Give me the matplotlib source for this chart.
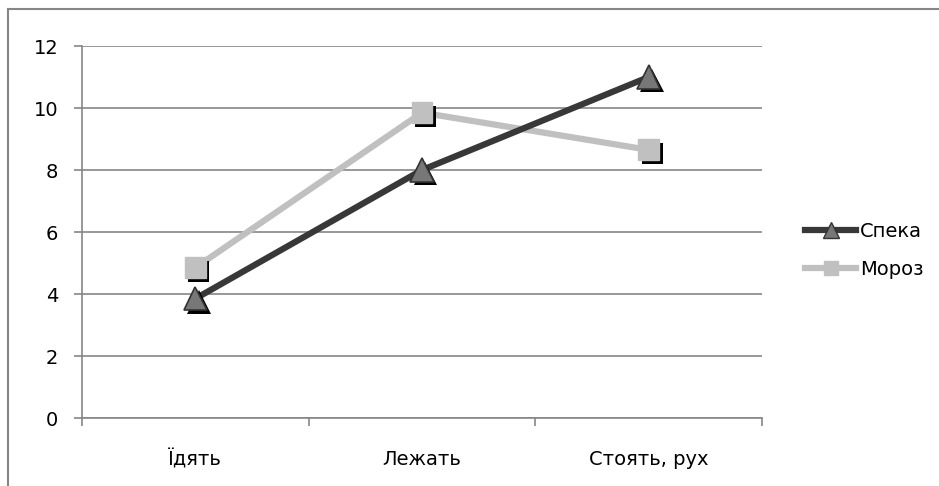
import matplotlib.pyplot as plt
import matplotlib.patheffects as pe
from matplotlib.patches import Rectangle

plt.rcParams['font.family'] = ['DejaVu Sans']

categories = ['Їдять', 'Лежать', 'Стоять, рух']
speka = [3.85, 8.0, 11.0]
moroz = [4.85, 9.85, 8.65]
yticks = [0, 2, 4, 6, 8, 10, 12]

fig = plt.figure(figsize=(9.39, 4.86), dpi=100)
ax = fig.add_axes([0.0873, 0.1399, 0.7242, 0.7654])

# рамка навколо діаграми (обрізана справа і знизу)
fig.patches.append(Rectangle((8 / 939, -0.05), 1.2, 1 - 9 / 486 + 0.05,
                             transform=fig.transFigure, fill=False,
                             edgecolor='#868686', lw=1.5, zorder=0))

x = list(range(len(categories)))
shadow = [pe.withSimplePatchShadow(offset=(2.5, -2.5), shadow_rgbFace='black', alpha=1)]

ax.plot(x, moroz, color='#c0c0c0', lw=4.5, zorder=3, solid_capstyle='butt')
ax.plot(x, speka, color='#383838', lw=4.5, zorder=4, solid_capstyle='butt')
ax.plot(x, moroz, ls='none', marker='s', ms=15, mfc='#c0c0c0', mec='#c0c0c0',
        zorder=5, path_effects=shadow)
ax.plot(x, speka, ls='none', marker='^', ms=17, mfc='#777777', mec='#333333',
        mew=1.2, zorder=6, path_effects=shadow)

# легенда
h1, = ax.plot([], [], color='#383838', lw=4.5, marker='^', ms=11, mfc='#777777', mec='#333333')
h2, = ax.plot([], [], color='#c0c0c0', lw=4.5, marker='s', ms=10, mfc='#c0c0c0', mec='#c0c0c0')
fig.legend([h1, h2], ['Спека', 'Мороз'], loc='center left',
           bbox_to_anchor=(0.839, 0.485), frameon=False, fontsize=14,
           handlelength=2.6, handletextpad=0.2, labelspacing=1.0)

ax.set_xlim(-0.5, 2.5)
ax.set_ylim(0, 12)
ax.set_yticks(yticks)
ax.set_yticklabels([str(v) for v in yticks], fontsize=14)
ax.yaxis.grid(True, color='#868686', lw=1.2)
ax.set_axisbelow(True)

ax.set_xticks([-0.5, 0.5, 1.5, 2.5])
ax.set_xticklabels([])
ax.set_xticks(x, minor=True)
ax.set_xticklabels(categories, minor=True, fontsize=14)
ax.tick_params(axis='x', which='major', length=6, color='#868686', width=1.2, direction='out')
ax.tick_params(axis='x', which='minor', length=0, pad=23)
ax.tick_params(axis='y', length=6, color='#868686', width=1.2, pad=11)

for s in ['top', 'right']:
    ax.spines[s].set_visible(False)
for s in ['left', 'bottom']:
    ax.spines[s].set_color('#868686')
    ax.spines[s].set_linewidth(1.2)

fig.savefig('out.png', dpi=100)
